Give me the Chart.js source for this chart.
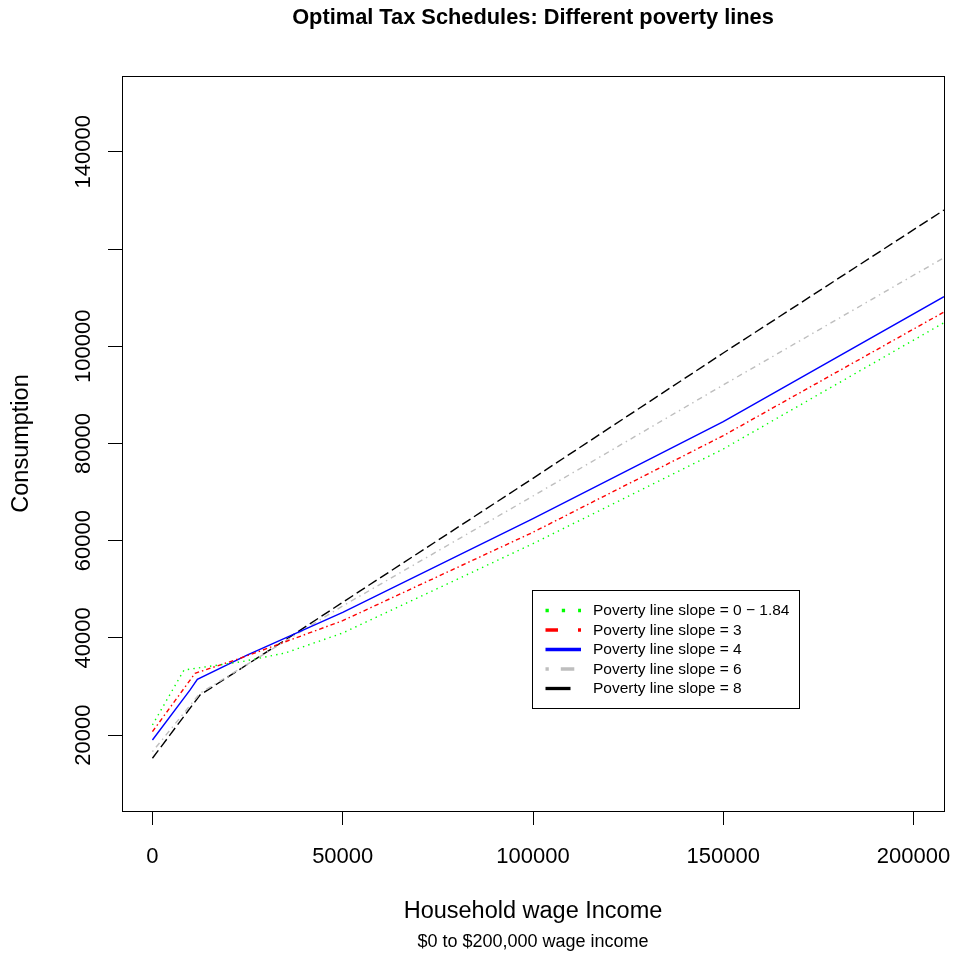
<!DOCTYPE html>
<html>
<head>
<meta charset="utf-8">
<title>Optimal Tax Schedules: Different poverty lines</title>
<script src="https://cdn.jsdelivr.net/npm/chart.js@4.4.1/dist/chart.umd.min.js"></script>
<style>
  html, body { margin: 0; padding: 0; background: #ffffff; }
  #wrap { width: 956px; height: 955px; }
</style>
</head>
<body>
<div id="wrap"><canvas id="c" width="956" height="955"></canvas></div>
<script>
// ---- data ---------------------------------------------------------------
const chartTitle = 'Optimal Tax Schedules: Different poverty lines';
const xTitle = 'Household wage Income';
const xSubTitle = '$0 to $200,000 wage income';
const yTitle = 'Consumption';

const incomeTicks = [0, 50000, 100000, 150000, 200000];
const incomeTickLabels = ['0', '50000', '100000', '150000', '200000'];
const consumptionTicks = [20000, 40000, 60000, 80000, 100000, 120000, 140000];
const consumptionTickLabels = ['20000', '40000', '60000', '80000', '100000', '', '140000'];

const seriesLabels = [
  'Poverty line slope = 0 \u2212 1.84',
  'Poverty line slope = 3',
  'Poverty line slope = 4',
  'Poverty line slope = 6',
  'Poverty line slope = 8'
];

const slope0Income = [0, 8300, 23500, 34900, 50000, 100000, 150000, 208000];
const slope0Consumption = [22100, 33410, 35120, 36910, 41020, 59390, 78870, 104850];

const slope3Income = [0, 11200, 23100, 50000, 100000, 150000, 208000];
const slope3Consumption = [20720, 32730, 35820, 43550, 61740, 81610, 107050];

const slope4Income = [0, 9900, 11800, 25000, 50000, 100000, 150000, 208000];
const slope4Consumption = [19010, 29300, 31500, 36500, 45240, 64530, 84490, 110200];

const slope6Income = [0, 12500, 50000, 100000, 150000, 208000];
const slope6Consumption = [16610, 28620, 46580, 69200, 92040, 118220];

const slope8Income = [0, 12500, 34900, 50000, 100000, 150000, 208000];
const slope8Consumption = [15250, 28270, 39580, 47340, 72840, 98620, 128030];

// ---- styling --------------------------------------------------------------
const FONT = '"Liberation Sans", Arial, Helvetica, sans-serif';
const seriesColors = ['#00ff00', '#ff0000', '#0000ff', '#bebebe', '#000000'];
const plotDashes = [
  [1.4, 4.2],            // dotted
  [4.5, 3, 1.5, 3],      // dash-dot
  [],                    // solid
  [1.4, 4.2, 5.6, 4.2],  // dot-dash
  [9.8, 4.2]             // long dash
];

function toPoints(xs, ys) {
  return xs.map((x, i) => ({ x: x, y: ys[i] }));
}

const incomeSeries = [slope0Income, slope3Income, slope4Income, slope6Income, slope8Income];
const consumptionSeries = [slope0Consumption, slope3Consumption, slope4Consumption, slope6Consumption, slope8Consumption];

const datasets = seriesLabels.map((label, i) => ({
  label: label,
  data: toPoints(incomeSeries[i], consumptionSeries[i]),
  borderColor: seriesColors[i],
  backgroundColor: seriesColors[i],
  borderWidth: 1.4,
  borderDash: plotDashes[i],
  pointRadius: 0,
  tension: 0,
  fill: false
}));

// Frame, axis text, titles and legend drawn in the style of a base-graphics plot
const framePlugin = {
  id: 'framePlugin',
  afterDraw(chart) {
    const ctx = chart.ctx;
    const ca = chart.chartArea;
    const xs = chart.scales.x;
    const ys = chart.scales.y;
    ctx.save();

    // plot box
    ctx.strokeStyle = '#000';
    ctx.lineWidth = 1;
    ctx.setLineDash([]);
    ctx.strokeRect(Math.round(ca.left) + 0.5, Math.round(ca.top) + 0.5,
                   Math.round(ca.right - ca.left), Math.round(ca.bottom - ca.top));

    ctx.fillStyle = '#000';
    // x tick labels
    ctx.font = '22px ' + FONT;
    ctx.textAlign = 'center';
    ctx.textBaseline = 'middle';
    incomeTicks.forEach((v, i) => {
      ctx.fillText(incomeTickLabels[i], xs.getPixelForValue(v), ca.bottom + 46);
    });
    // y tick labels (rotated, parallel to axis)
    consumptionTicks.forEach((v, i) => {
      if (!consumptionTickLabels[i]) return;
      ctx.save();
      ctx.translate(ca.left - 38, ys.getPixelForValue(v));
      ctx.rotate(-Math.PI / 2);
      ctx.fillText(consumptionTickLabels[i], 0, 0);
      ctx.restore();
    });

    const cx = (ca.left + ca.right) / 2;
    const cy = (ca.top + ca.bottom) / 2;
    // axis titles
    ctx.font = '23.5px ' + FONT;
    ctx.fillText(xTitle, cx, ca.bottom + 101);
    ctx.font = '18px ' + FONT;
    ctx.fillText(xSubTitle, cx, ca.bottom + 131);
    ctx.font = '23.5px ' + FONT;
    ctx.save();
    ctx.translate(ca.left - 100, cy);
    ctx.rotate(-Math.PI / 2);
    ctx.fillText(yTitle, 0, 0);
    ctx.restore();

    // main title
    ctx.font = 'bold 21.8px ' + FONT;
    ctx.fillText(chartTitle, cx, 18);

    // legend
    const lx = 532.5, ly = 590.5, lw = 267, lh = 118;
    ctx.fillStyle = '#fff';
    ctx.fillRect(lx, ly, lw, lh);
    ctx.strokeStyle = '#000';
    ctx.lineWidth = 1;
    ctx.strokeRect(lx, ly, lw, lh);
    const rowY = [610.5, 630, 649.5, 669, 688.5];
    const legendDashes = [
      [3.3, 13],
      [12.5, 20, 3.3, 100],
      [],
      [3.3, 12, 13.5, 100],
      [25, 100]
    ];
    ctx.lineCap = 'butt';
    seriesLabels.forEach((label, i) => {
      ctx.strokeStyle = seriesColors[i];
      ctx.lineWidth = 3.3;
      ctx.setLineDash(legendDashes[i]);
      ctx.beginPath();
      ctx.moveTo(545.5, rowY[i]);
      ctx.lineTo(581, rowY[i]);
      ctx.stroke();
      ctx.setLineDash([]);
      ctx.fillStyle = '#000';
      ctx.font = '15.5px ' + FONT;
      ctx.textAlign = 'left';
      ctx.textBaseline = 'middle';
      ctx.fillText(label, 593, rowY[i] + 0.5);
    });
    ctx.restore();
  }
};

new Chart(document.getElementById('c'), {
  type: 'line',
  data: { datasets: datasets },
  plugins: [framePlugin],
  options: {
    responsive: false,
    animation: false,
    devicePixelRatio: 1,
    layout: { padding: { top: 76, right: 12, left: 0, bottom: 0 } },
    plugins: {
      legend: { display: false },
      title: { display: false },
      tooltip: { enabled: false }
    },
    scales: {
      x: {
        type: 'linear',
        min: -8000,
        max: 208000,
        afterBuildTicks(scale) { scale.ticks = incomeTicks.map(v => ({ value: v })); },
        afterFit(scale) { scale.height = 144; },
        grid: { drawOnChartArea: false, drawTicks: true, tickLength: 14, color: '#000', lineWidth: 1 },
        border: { display: false },
        ticks: { display: false }
      },
      y: {
        type: 'linear',
        min: 4400,
        max: 155600,
        afterBuildTicks(scale) { scale.ticks = consumptionTicks.map(v => ({ value: v })); },
        afterFit(scale) { scale.width = 122; },
        grid: { drawOnChartArea: false, drawTicks: true, tickLength: 14, color: '#000', lineWidth: 1 },
        border: { display: false },
        ticks: { display: false }
      }
    }
  }
});
</script>
</body>
</html>
